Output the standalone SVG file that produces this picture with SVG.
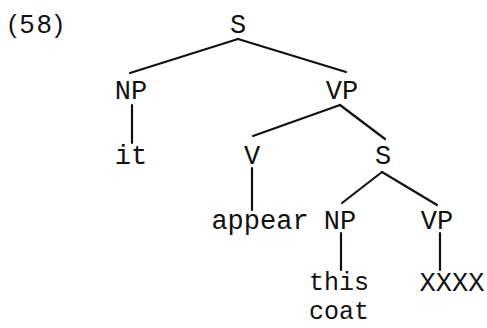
<svg xmlns="http://www.w3.org/2000/svg" width="487" height="328" viewBox="0 0 487 328">
<style>
text{font-family:"Liberation Mono","Courier New",monospace;font-size:27px;fill:#111;text-anchor:middle}
.edge{stroke:#111;stroke-width:2.2;stroke-linecap:round;fill:none}
.small{font-size:25px}
</style>
<rect width="487" height="328" fill="#fff"/>
<text x="8" y="33" style="text-anchor:start;font-family:'Liberation Sans',Arial,sans-serif;font-size:26px;letter-spacing:3px">(58)</text>
<g id="connectors">
<line class="edge" x1="238" y1="39" x2="130" y2="73"/>
<line class="edge" x1="238" y1="39" x2="346" y2="72"/>
<line class="edge" x1="132" y1="105" x2="132" y2="143"/>
<line class="edge" x1="340" y1="105" x2="253" y2="136"/>
<line class="edge" x1="340" y1="105" x2="385" y2="139"/>
<line class="edge" x1="252" y1="168" x2="252" y2="210"/>
<line class="edge" x1="382" y1="172" x2="342" y2="203"/>
<line class="edge" x1="382" y1="172" x2="437" y2="205"/>
<line class="edge" x1="341" y1="233" x2="341" y2="270"/>
<line class="edge" x1="440" y1="233" x2="440" y2="270"/>
</g>
<g id="s1"><text x="238" y="33">S</text></g>
<g id="np1"><text x="131" y="99">NP</text></g>
<g id="vp1"><text x="342" y="99">VP</text></g>
<g id="it"><text x="131" y="164">it</text></g>
<g id="v"><text x="252" y="164">V</text></g>
<g id="s2"><text x="383" y="164">S</text></g>
<g id="appear"><text x="260" y="229">appear</text></g>
<g id="np2"><text x="340" y="229">NP</text></g>
<g id="vp2"><text x="437" y="229">VP</text></g>
<g id="thiscoat"><text class="small" x="339" y="290">this</text><text class="small" x="339" y="319">coat</text></g>
<g id="xxxx"><text x="452" y="291">XXXX</text></g>
</svg>
